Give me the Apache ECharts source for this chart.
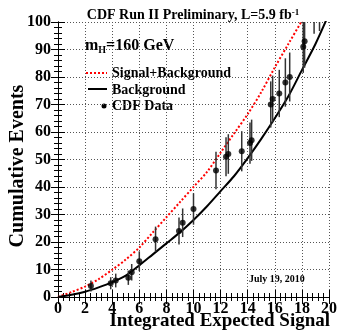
<!DOCTYPE html>
<html>
<head>
<meta charset="utf-8">
<script src="https://cdn.jsdelivr.net/npm/echarts@6/dist/echarts.min.js"></script>
<style>
  html, body { margin: 0; background: #fff; }
  #chart { width: 341px; height: 331px; }
</style>
</head>
<body>
<div id="chart"></div>
<script>
// background expectation (solid black)
const bgX = [0, 1, 2, 3, 4, 5, 6, 7, 8, 9, 10, 11, 12, 13, 14, 15, 16, 17, 18, 19, 20];
const bgY = [0, 0.8, 1.9, 3.5, 5.4, 7.8, 11.5, 15.5, 19.5, 23.5, 28, 33, 38.5, 44, 50.5, 57.5, 65, 73, 82.5, 92, 103];

// signal + background expectation (red dotted)
const sbX = [0, 1, 2, 3, 4, 5, 6, 7, 8, 9, 10, 11, 12, 13, 14, 15, 16, 17, 18, 18.5];
const sbY = [0, 1.8, 3.8, 6.5, 9.9, 13.6, 18, 23.5, 29, 34.5, 40, 45.5, 52.5, 59.5, 66.5, 74.5, 83.5, 92, 100.5, 105];

// CDF data: cumulative events with errors
const dataX = [2.43, 3.89, 4.26, 5.19, 5.44, 6.0, 7.2, 8.93, 9.2, 10.0, 11.66, 12.4, 12.57, 13.56, 14.17, 14.29, 15.7, 15.84, 16.33, 16.78, 17.1, 18.1, 18.2, 18.9, 19.3];
const dataY = [4, 5, 6, 7, 9, 13, 21, 24, 27, 32, 46, 51, 52, 53, 56, 57, 70, 72, 74, 78, 80, 91, 93, 106, 107];
const dataErr = [2, 2.2, 2.5, 2.6, 3, 3.6, 4.6, 4.9, 5.2, 5.7, 6.8, 7.1, 7.2, 7.3, 7.5, 7.5, 8.4, 8.5, 8.6, 8.8, 8.9, 9.5, 9.6, 10.3, 10.3];

const xTicks = [0, 20, 2];
const yTicks = [0, 100, 10];

const FONT = "Liberation Serif";
const INK = "#000";

const chart = echarts.init(document.getElementById("chart"), null, { renderer: "canvas" });

const pts = dataX.map((x, i) => [x, dataY[i], dataErr[i]]);

const axisCommon = {
  type: "value",
  axisLine: { show: true, lineStyle: { color: INK, width: 1 } },
  axisTick: { show: true, inside: true, length: 7, lineStyle: { color: INK } },
  minorTick: { show: true, splitNumber: 5, length: 4, lineStyle: { color: INK } },
};

chart.setOption({
  animation: false,
  backgroundColor: "#fff",
  title: {
    text: "CDF Run II Preliminary, L=5.9 fb{sup|-1}",
    left: 188,
    top: 3,
    textAlign: "center",
    textStyle: {
      fontFamily: FONT, fontWeight: "bold", fontSize: 14, color: INK,
      rich: { sup: { fontFamily: FONT, fontWeight: "bold", fontSize: 9, verticalAlign: "top", padding: [0, 0, 6, 0] } },
    },
  },
  grid: { left: 58, right: 12, top: 22, bottom: 34 },
  xAxis: [
    {
      ...axisCommon,
      min: xTicks[0], max: xTicks[1], interval: xTicks[2],
      axisLabel: { margin: 4, fontFamily: FONT, fontWeight: "bold", fontSize: 16, color: INK },
      splitLine: { show: true, lineStyle: { color: "#555", type: [1, 2], width: 1 } },
    },
    {
      ...axisCommon,
      position: "top",
      min: xTicks[0], max: xTicks[1], interval: xTicks[2],
      axisLabel: { show: false },
      splitLine: { show: false },
    },
  ],
  yAxis: [
    {
      ...axisCommon,
      min: yTicks[0], max: yTicks[1], interval: yTicks[2],
      axisLabel: { margin: 7, fontFamily: FONT, fontWeight: "bold", fontSize: 16, color: INK },
      splitLine: { show: true, lineStyle: { color: "#555", type: [1, 2], width: 1 } },
    },
    {
      ...axisCommon,
      position: "right",
      min: yTicks[0], max: yTicks[1], interval: yTicks[2],
      axisLabel: { show: false },
      splitLine: { show: false },
    },
  ],
  series: [
    {
      name: "Signal+Background",
      type: "line",
      data: sbX.map((x, i) => [x, sbY[i]]),
      smooth: 0.3,
      showSymbol: false,
      clip: true,
      lineStyle: { color: "#ff0000", width: 2, type: [2, 2] },
      z: 3,
    },
    {
      name: "Background",
      type: "line",
      data: bgX.map((x, i) => [x, bgY[i]]),
      smooth: 0.3,
      showSymbol: false,
      clip: true,
      lineStyle: { color: INK, width: 2 },
      z: 3,
    },
    {
      // error bars
      type: "custom",
      clip: true,
      data: pts,
      renderItem: (params, api) => {
        const lo = api.coord([api.value(0), api.value(1) - api.value(2)]);
        const hi = api.coord([api.value(0), api.value(1) + api.value(2)]);
        return {
          type: "line",
          shape: { x1: lo[0], y1: lo[1], x2: hi[0], y2: hi[1] },
          style: { stroke: "#333", lineWidth: 1.5 },
        };
      },
      z: 4,
    },
    {
      name: "CDF Data",
      type: "scatter",
      data: pts.map((p) => [p[0], p[1]]),
      symbol: "circle",
      symbolSize: 6,
      clip: true,
      itemStyle: { color: INK },
      z: 5,
    },
  ],
  graphic: [
    {
      type: "text", x: 18, y: 166, rotation: Math.PI / 2,
      style: { text: "Cumulative Events", font: `bold 20px "${FONT}"`, fill: INK, align: "center", verticalAlign: "middle" },
    },
    {
      type: "text", x: 330, y: 321,
      style: { text: "Integrated Expected Signal", font: `bold 19px "${FONT}"`, fill: INK, align: "right", verticalAlign: "middle" },
    },
    {
      type: "text", x: 85, y: 46,
      style: {
        text: "m{sub|H}=160 GeV", font: `bold 16px "${FONT}"`, fill: INK, align: "left", verticalAlign: "middle",
        rich: { sub: { font: `bold 10px "${FONT}"`, fill: INK, padding: [8, 0, 0, 0] } },
      },
    },
    { type: "line", shape: { x1: 86, y1: 73, x2: 107, y2: 73 }, style: { stroke: "#ff0000", lineWidth: 2, lineDash: [2, 2] } },
    {
      type: "text", x: 112, y: 73,
      style: { text: "Signal+Background", font: `bold 14px "${FONT}"`, fill: INK, align: "left", verticalAlign: "middle" },
    },
    { type: "line", shape: { x1: 88, y1: 89, x2: 107, y2: 89 }, style: { stroke: INK, lineWidth: 2 } },
    {
      type: "text", x: 112, y: 90,
      style: { text: "Background", font: `bold 14px "${FONT}"`, fill: INK, align: "left", verticalAlign: "middle" },
    },
    { type: "circle", shape: { cx: 104, cy: 106, r: 2.5 }, style: { fill: INK } },
    {
      type: "text", x: 112, y: 106,
      style: { text: "CDF Data", font: `bold 14px "${FONT}"`, fill: INK, align: "left", verticalAlign: "middle" },
    },
    {
      type: "text", x: 249, y: 279,
      style: { text: "July 19, 2010", font: `bold 10px "${FONT}"`, fill: INK, align: "left", verticalAlign: "middle" },
    },
  ],
});
</script>
</body>
</html>
